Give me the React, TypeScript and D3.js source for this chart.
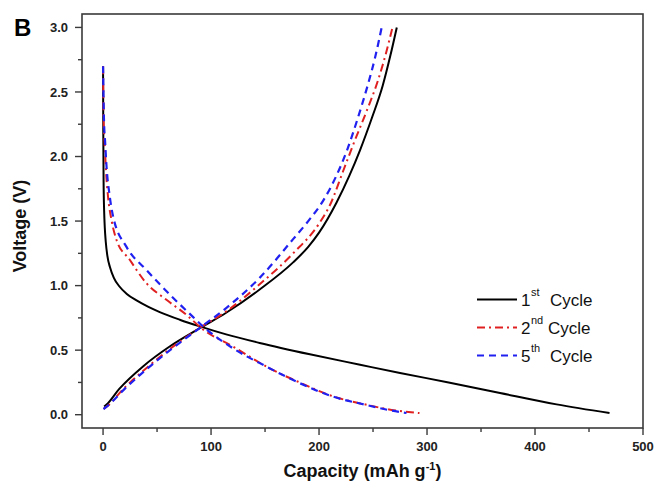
import React from "react";
import * as d3 from "d3";

const W = 656;
const H = 484;

// 1st cycle
const cap1Dis = [0, 0.2, 0.5, 1, 1.6, 2.5, 4, 6.5, 10, 15, 22, 31, 42, 52.5, 71, 89.6, 114, 145, 191.5, 238, 275, 320, 367.6, 420, 469];
const v1Dis = [2.7, 2.2, 1.8, 1.58, 1.45, 1.34, 1.23, 1.14, 1.06, 0.995, 0.935, 0.885, 0.835, 0.795, 0.736, 0.684, 0.622, 0.556, 0.468, 0.387, 0.323, 0.25, 0.168, 0.08, 0.013];
const cap1Chg = [1, 3, 15, 37, 62, 89.6, 114, 145, 176, 190, 200, 216, 228, 238, 249, 259, 266, 272];
const v1Chg = [0.064, 0.077, 0.2, 0.374, 0.53, 0.67, 0.79, 0.97, 1.18, 1.3, 1.41, 1.64, 1.85, 2.05, 2.3, 2.55, 2.78, 3.0];

// 2nd cycle
const cap2Dis = [0, 0.5, 1.6, 3, 4.6, 8, 12.4, 24.7, 40, 58.7, 77, 92.6, 120, 154, 182, 213, 244, 266, 293];
const v2Dis = [2.7, 2.3, 2.08, 1.85, 1.69, 1.5, 1.355, 1.2, 1.02, 0.89, 0.775, 0.66, 0.53, 0.36, 0.25, 0.142, 0.077, 0.039, 0.013];
const cap2Chg = [0.5, 3, 20, 40, 62, 90, 114, 145, 176, 200, 211, 222, 232, 244, 255, 262, 268];
const v2Chg = [0.045, 0.06, 0.21, 0.36, 0.51, 0.675, 0.8, 1.01, 1.25, 1.48, 1.64, 1.88, 2.1, 2.35, 2.6, 2.8, 3.0];

// 5th cycle
const cap5Dis = [0, 0.8, 2, 3, 6.2, 9.3, 21.7, 40, 65, 83, 92.6, 120, 151, 182, 213, 244, 265, 281];
const v5Dis = [2.7, 2.3, 2.1, 1.95, 1.69, 1.536, 1.3, 1.123, 0.904, 0.76, 0.684, 0.516, 0.374, 0.245, 0.14, 0.075, 0.035, 0.013];
const cap5Chg = [0.4, 3, 20, 40, 62, 90, 114, 145, 176, 190, 204, 216, 226, 236, 245, 252, 258];
const v5Chg = [0.044, 0.06, 0.2, 0.35, 0.5, 0.675, 0.826, 1.06, 1.36, 1.5, 1.66, 1.85, 2.05, 2.3, 2.55, 2.77, 3.0];

const xTicks = [0, 100, 200, 300, 400, 500];
const xMinor = [50, 150, 250, 350, 450];
const yTicks = [0, 0.5, 1.0, 1.5, 2.0, 2.5, 3.0];
const yMinor = [0.25, 0.75, 1.25, 1.75, 2.25, 2.75];

const legendNums = ["1", "2", "5"];
const legendSups = ["st", "nd", "th"];

const series = [
  { cap: [cap1Dis, cap1Chg], v: [v1Dis, v1Chg], color: "#000000", dash: "none", width: 2 },
  { cap: [cap2Dis, cap2Chg], v: [v2Dis, v2Chg], color: "#e02020", dash: "8,4,2,4", width: 2 },
  { cap: [cap5Dis, cap5Chg], v: [v5Dis, v5Chg], color: "#2020f0", dash: "7,5", width: 2.2 },
];

const FONT = "'Liberation Sans', Arial, Helvetica, sans-serif";

export default function App() {
  const left = 82, right = 643, top = 14, bottom = 428;
  const x = d3.scaleLinear().domain([-19.5, 500]).range([left, right]);
  const y = d3.scaleLinear().domain([-0.103, 3.104]).range([bottom, top]);

  const line = d3
    .line<[number, number]>()
    .x((d) => x(d[0]))
    .y((d) => y(d[1]))
    .curve(d3.curveMonotoneX);

  return (
    <svg
      width={W}
      height={H}
      style={{ position: "absolute", left: 0, top: 0, background: "#fff" }}
      fontFamily={FONT}
    >
      {/* curves */}
      {series.map((s, i) =>
        s.cap.map((caps, j) => (
          <path
            key={`${i}-${j}`}
            d={line(caps.map((c, k) => [c, s.v[j][k]] as [number, number])) || ""}
            fill="none"
            stroke={s.color}
            strokeWidth={s.width}
            strokeDasharray={s.dash}
            strokeLinejoin="round"
          />
        ))
      )}

      {/* frame */}
      <rect x={left} y={top} width={right - left} height={bottom - top} fill="none" stroke="#3a3a3a" strokeWidth={1.6} />

      {/* y axis */}
      {yTicks.map((t) => (
        <g key={`y${t}`}>
          <line x1={left - 7} x2={left} y1={y(t)} y2={y(t)} stroke="#3a3a3a" strokeWidth={1.4} />
          <text x={68} y={y(t)} dy="0.36em" textAnchor="end" fontSize={13} fontWeight="bold" fill="#222">
            {t.toFixed(1)}
          </text>
        </g>
      ))}
      {yMinor.map((t) => (
        <line key={`ym${t}`} x1={left - 4} x2={left} y1={y(t)} y2={y(t)} stroke="#3a3a3a" strokeWidth={1.4} />
      ))}

      {/* x axis */}
      {xTicks.map((t) => (
        <g key={`x${t}`}>
          <line x1={x(t)} x2={x(t)} y1={bottom} y2={bottom + 7} stroke="#3a3a3a" strokeWidth={1.4} />
          <text x={x(t)} y={451} textAnchor="middle" fontSize={13} fontWeight="bold" fill="#222">
            {t}
          </text>
        </g>
      ))}
      {xMinor.map((t) => (
        <line key={`xm${t}`} x1={x(t)} x2={x(t)} y1={bottom} y2={bottom + 4} stroke="#3a3a3a" strokeWidth={1.4} />
      ))}

      {/* axis titles */}
      <text x={(left + right) / 2} y={477} textAnchor="middle" fontSize={18} fontWeight="bold" fill="#111">
        Capacity (mAh g
        <tspan dy={-7} fontSize={11}>-1</tspan>
        <tspan dy={7}>)</tspan>
      </text>
      <text
        transform={`translate(26,226) rotate(-90)`}
        textAnchor="middle"
        fontSize={18}
        fontWeight="bold"
        fill="#111"
      >
        Voltage (V)
      </text>

      {/* panel label */}
      <text x={14} y={36} fontSize={24} fontWeight="bold" fill="#000">
        B
      </text>

      {/* legend */}
      {series.map((s, i) => {
        const ly = 299.5 + i * 28;
        return (
          <g key={`lg${i}`}>
            <line x1={477} x2={517} y1={ly} y2={ly} stroke={s.color} strokeWidth={s.width} strokeDasharray={s.dash} />
            <text x={521} y={ly + 6} fontSize={17} fill="#111">
              {legendNums[i]}
            </text>
            <text x={531} y={ly - 4} fontSize={11} fill="#111">
              {legendSups[i]}
            </text>
            <text x={i === 1 ? 548 : 550} y={ly + 6} fontSize={17} fill="#111">
              Cycle
            </text>
          </g>
        );
      })}
    </svg>
  );
}
